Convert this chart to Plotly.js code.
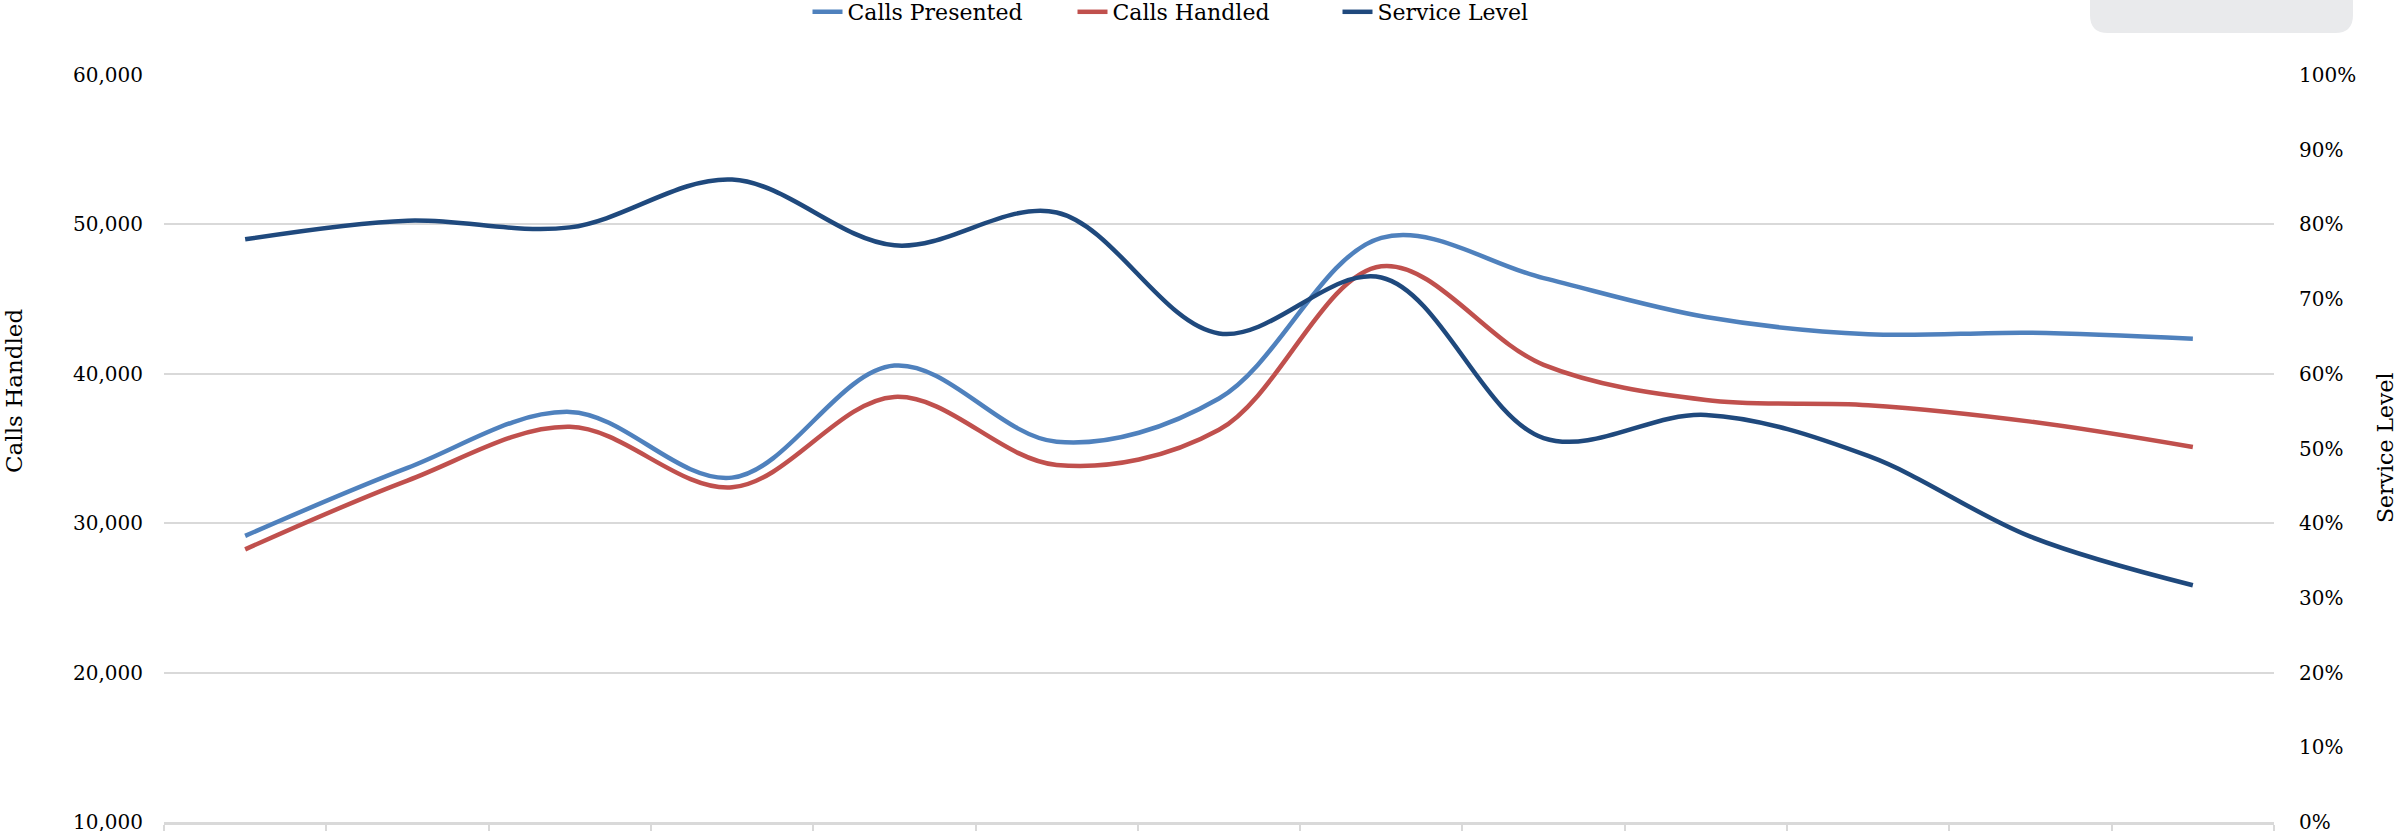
<!DOCTYPE html>
<html>
<head>
<meta charset="utf-8">
<script src="https://cdn.plot.ly/plotly-3.0.1.min.js"></script>
<style>
  html, body { margin: 0; padding: 0; background: #ffffff; }
  #chart { width: 2399px; height: 831px; }
</style>
</head>
<body>
<div id="chart"></div>
<script>
// Monthly call-centre figures
const months = ['Nov-11', 'Dec-11', 'Jan-12', 'Feb-12', 'Mar-12', 'Apr-12', 'May-12',
                'Jun-12', 'Jul-12', 'Aug-12', 'Sep-12', 'Oct-12', 'Nov-12'];
const callsPresented = [29150, 33700, 37450, 33050, 40550, 35450, 38350,
                        49100, 46400, 43800, 42650, 42750, 42350];
const callsHandled = [28250, 32850, 36450, 32400, 38450, 33900, 36250,
                      47200, 40600, 38250, 37900, 36800, 35100];
const serviceLevel = [0.780, 0.805, 0.796, 0.860, 0.772, 0.816, 0.654,
                      0.729, 0.514, 0.545, 0.490, 0.382, 0.317];

const W = 2399, H = 831;
const M = { l: 164, r: 125, t: 75, b: 9 };
const plotW = W - M.l - M.r, plotH = H - M.t - M.b;
// pixel -> paper helpers for decorations
const px = x => (x - M.l) / plotW;
const py = y => (H - M.b - y) / plotH;

const FONT = 'DejaVu Serif, Liberation Serif, serif';

const traces = [
  { x: months, y: callsPresented, name: 'Calls Presented', type: 'scatter', mode: 'lines',
    line: { color: '#4F81BD', width: 4.5, shape: 'spline', smoothing: 1 } },
  { x: months, y: callsHandled, name: 'Calls Handled', type: 'scatter', mode: 'lines',
    line: { color: '#C0504D', width: 4.5, shape: 'spline', smoothing: 1 } },
  { x: months, y: serviceLevel, name: 'Service Level', type: 'scatter', mode: 'lines',
    yaxis: 'y2',
    line: { color: '#1F497D', width: 4.5, shape: 'spline', smoothing: 1 } }
];

// rounded grey panel in the top-right corner
function roundRect(x0, y0, x1, y1, r) {
  const X0 = px(x0), X1 = px(x1), Y0 = py(y0), Y1 = py(y1);
  const rx = r / plotW, ry = r / plotH;
  return `M ${X0} ${Y0} L ${X1} ${Y0} L ${X1} ${Y1 + ry} ` +
         `Q ${X1} ${Y1} ${X1 - rx} ${Y1} L ${X0 + rx} ${Y1} ` +
         `Q ${X0} ${Y1} ${X0} ${Y1 + ry} Z`;
}

const layout = {
  width: W, height: H,
  margin: M,
  paper_bgcolor: '#ffffff',
  plot_bgcolor: '#ffffff',
  font: { family: FONT, size: 20, color: '#000000' },
  showlegend: true,
  legend: {
    orientation: 'h',
    xref: 'container', yref: 'container',
    x: 1205 / W, xanchor: 'center',
    y: 1 - 12 / H, yanchor: 'middle',
    font: { family: FONT, size: 22, color: '#000000' },
    bgcolor: 'rgba(0,0,0,0)',
    entrywidth: 220,
    itemwidth: 30
  },
  xaxis: {
    type: 'category',
    range: [-0.5, months.length - 0.5],
    showgrid: false,
    showline: true, linecolor: '#d9d9d9', linewidth: 3,
    ticks: 'outside', tickson: 'boundaries', ticklen: 12, tickwidth: 2, tickcolor: '#d9d9d9',
    tickfont: { family: FONT, size: 20, color: '#595959' },
    ticklabelstandoff: -2,
    ticklabeloverflow: 'allow',
    fixedrange: true
  },
  yaxis: {
    range: [10000, 60000],
    dtick: 10000, tick0: 10000,
    tickformat: ',d',
    showgrid: true, gridcolor: '#d9d9d9', gridwidth: 2,
    zeroline: false, showline: false,
    ticks: '', ticklabelstandoff: 20,
    ticklabeloverflow: 'allow',
    tickfont: { family: FONT, size: 20, color: '#000000' }
  },
  yaxis2: {
    overlaying: 'y', side: 'right',
    range: [0, 1],
    dtick: 0.1, tick0: 0,
    tickformat: '.0%',
    showgrid: false, zeroline: false, showline: false,
    ticks: '', ticklabelstandoff: 24,
    ticklabeloverflow: 'allow',
    tickfont: { family: FONT, size: 20, color: '#000000' }
  },
  annotations: [
    { text: 'Calls Handled', xref: 'paper', yref: 'paper',
      x: px(14), y: py(391), textangle: -90, showarrow: false,
      xanchor: 'center', yanchor: 'middle',
      font: { family: FONT, size: 23, color: '#000000' } },
    { text: 'Service Level', xref: 'paper', yref: 'paper',
      x: px(2385), y: py(448), textangle: -90, showarrow: false,
      xanchor: 'center', yanchor: 'middle',
      font: { family: FONT, size: 22, color: '#000000' } }
  ],
  shapes: [
    { type: 'path', xref: 'paper', yref: 'paper', layer: 'below',
      path: roundRect(2090, -5, 2353, 33, 18),
      fillcolor: '#e9eaec', line: { width: 0 } }
  ]
};

Plotly.newPlot('chart', traces, layout, { displayModeBar: false, staticPlot: true });
</script>
</body>
</html>
